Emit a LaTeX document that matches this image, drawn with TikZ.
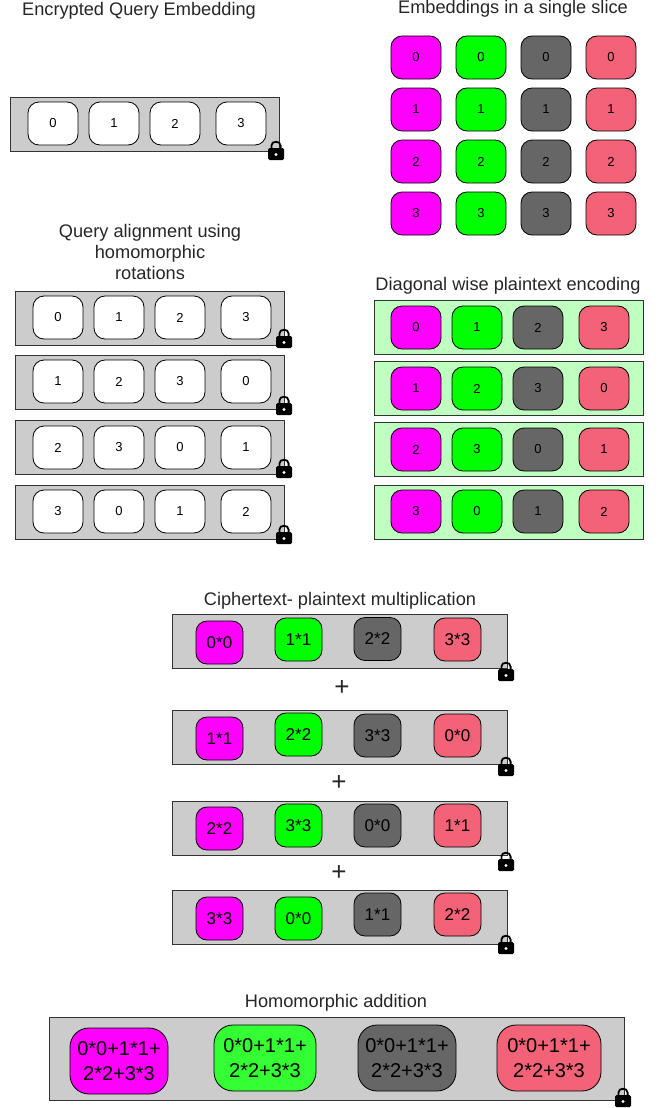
\documentclass[tikz,border=0pt]{standalone}
\usepackage{fontspec}
\setmainfont{Liberation Sans}
\definecolor{cellmag}{HTML}{FF00FF}
\definecolor{cellgreen}{HTML}{00FF00}
\definecolor{cellgray}{HTML}{666666}
\definecolor{cellred}{HTML}{F46277}
\definecolor{barlime}{HTML}{BFFFBF}
\definecolor{sumgreen}{HTML}{33FF33}
\tikzset{
  title/.style={font=\fontsize{18.2}{21}\selectfont,align=center,text=black!85},
  plussign/.style={font=\fontsize{26}{26}\selectfont,text=black!85},
  bar/.style={draw=black!80,fill=black!20,line width=0.8pt,minimum width=269pt,minimum height=54pt,inner sep=0pt},
  mulbar/.style={bar,minimum width=335pt},
  sumbar/.style={bar,minimum width=575pt,minimum height=83pt},
  cell/.style={draw=black,line width=0.8pt,rounded corners=11pt,minimum width=50pt,minimum height=43pt,inner sep=0pt,font=\fontsize{13}{15}\selectfont},
  mulcell/.style={cell,minimum width=47pt,font=\fontsize{17}{18}\selectfont},
  sumcell/.style={cell,rounded corners=19pt,minimum height=66pt,align=center,font=\fontsize{20}{25}\selectfont},
  padlock/.pic={
    \fill[black,rounded corners=1.5pt] (-8,-6) rectangle (8,6);
    \draw[black,line width=1.8pt] (-4.6,-5) -- (-4.6,-8.5) .. controls (-4.6,-13.5) and (4.6,-13.5) .. (4.6,-8.5) -- (4.6,-5);
    \fill[white] (0,0.5) circle (1.6pt);
  }
}
\begin{document}
\begin{tikzpicture}[x=1pt,y=-1pt]
  \useasboundingbox (0,0) rectangle (657,1108);

  % Encrypted query
  \node[title] (encTitle) at (139,10.5) {Encrypted Query Embedding};
  \node[bar] (enc) at (144.5,124) {};
  \node[cell,fill=white] (enc0) at (53,123.5) {0};
  \node[cell,fill=white] (enc1) at (114,123.5) {1};
  \node[cell,fill=white] (enc2) at (175,123.5) {2};
  \node[cell,fill=white] (enc3) at (241,123.5) {3};
  \pic at (276,154) {padlock};

  % Embeddings in a slice
  \node[title] (sliceTitle) at (513,8.5) {Embeddings in a single slice};
  \node[cell,fill=cellmag] (s00) at (416,57.5) {0};
  \node[cell,fill=cellgreen] (s01) at (481,57.5) {0};
  \node[cell,fill=cellgray] (s02) at (546,57.5) {0};
  \node[cell,fill=cellred] (s03) at (611,57.5) {0};
  \node[cell,fill=cellmag] (s10) at (416,109.5) {1};
  \node[cell,fill=cellgreen] (s11) at (481,109.5) {1};
  \node[cell,fill=cellgray] (s12) at (546,109.5) {1};
  \node[cell,fill=cellred] (s13) at (611,109.5) {1};
  \node[cell,fill=cellmag] (s20) at (416,161.5) {2};
  \node[cell,fill=cellgreen] (s21) at (481,161.5) {2};
  \node[cell,fill=cellgray] (s22) at (546,161.5) {2};
  \node[cell,fill=cellred] (s23) at (611,161.5) {2};
  \node[cell,fill=cellmag] (s30) at (416,213.5) {3};
  \node[cell,fill=cellgreen] (s31) at (481,213.5) {3};
  \node[cell,fill=cellgray] (s32) at (546,213.5) {3};
  \node[cell,fill=cellred] (s33) at (611,213.5) {3};

  % Query rotations
  \node[title] (rotTitle) at (150,252) {Query alignment using\\homomorphic\\rotations};
  \node[bar] (rot0) at (149.5,318) {};
  \node[cell,fill=white] (r00) at (58,317.5) {0};
  \node[cell,fill=white] (r01) at (119,317.5) {1};
  \node[cell,fill=white] (r02) at (180,317.5) {2};
  \node[cell,fill=white] (r03) at (246,317.5) {3};
  \pic at (284,342) {padlock};
  \node[bar] (rot1) at (149.5,382) {};
  \node[cell,fill=white] (r10) at (58,381.5) {1};
  \node[cell,fill=white] (r11) at (119,381.5) {2};
  \node[cell,fill=white] (r12) at (180,381.5) {3};
  \node[cell,fill=white] (r13) at (246,381.5) {0};
  \pic at (284,409) {padlock};
  \node[bar] (rot2) at (149.5,447) {};
  \node[cell,fill=white] (r20) at (58,447.5) {2};
  \node[cell,fill=white] (r21) at (119,447.5) {3};
  \node[cell,fill=white] (r22) at (180,447.5) {0};
  \node[cell,fill=white] (r23) at (246,447.5) {1};
  \pic at (284,472) {padlock};
  \node[bar] (rot3) at (149.5,512) {};
  \node[cell,fill=white] (r30) at (58,511.5) {3};
  \node[cell,fill=white] (r31) at (119,511.5) {0};
  \node[cell,fill=white] (r32) at (180,511.5) {1};
  \node[cell,fill=white] (r33) at (246,511.5) {2};
  \pic at (284,538) {padlock};

  % Diagonal encoding
  \node[title] (diagTitle) at (508,286) {Diagonal wise plaintext encoding};
  \node[bar,fill=barlime] (diag0) at (508.5,327) {};
  \node[cell,fill=cellmag] (d00) at (416,327.5) {0};
  \node[cell,fill=cellgreen] (d01) at (477,327.5) {1};
  \node[cell,fill=cellgray] (d02) at (538,327.5) {2};
  \node[cell,fill=cellred] (d03) at (604,327.5) {3};
  \node[bar,fill=barlime] (diag1) at (508.5,388) {};
  \node[cell,fill=cellmag] (d10) at (416,388.5) {1};
  \node[cell,fill=cellgreen] (d11) at (477,388.5) {2};
  \node[cell,fill=cellgray] (d12) at (538,388.5) {3};
  \node[cell,fill=cellred] (d13) at (604,388.5) {0};
  \node[bar,fill=barlime] (diag2) at (508.5,449) {};
  \node[cell,fill=cellmag] (d20) at (416,449.5) {2};
  \node[cell,fill=cellgreen] (d21) at (477,449.5) {3};
  \node[cell,fill=cellgray] (d22) at (538,449.5) {0};
  \node[cell,fill=cellred] (d23) at (604,449.5) {1};
  \node[bar,fill=barlime] (diag3) at (508.5,512) {};
  \node[cell,fill=cellmag] (d30) at (416,511.5) {3};
  \node[cell,fill=cellgreen] (d31) at (477,511.5) {0};
  \node[cell,fill=cellgray] (d32) at (538,511.5) {1};
  \node[cell,fill=cellred] (d33) at (604,511.5) {2};

  % Multiplication
  \node[title] (mulTitle) at (340,600.5) {Ciphertext- plaintext multiplication};
  \node[mulbar] (mul0) at (339.5,641) {};
  \node[mulcell,fill=cellmag] (m00) at (219.5,642.5) {0*0};
  \node[mulcell,fill=cellgreen] (m01) at (298.5,639.5) {1*1};
  \node[mulcell,fill=cellgray] (m02) at (377.5,639) {2*2};
  \node[mulcell,fill=cellred] (m03) at (457.5,639.5) {3*3};
  \pic at (506,675) {padlock};
  \node[plussign] (plus0) at (342,688) {+};
  \node[mulbar] (mul1) at (339.5,737) {};
  \node[mulcell,fill=cellmag] (m10) at (219.5,738.5) {1*1};
  \node[mulcell,fill=cellgreen] (m11) at (298.5,734.5) {2*2};
  \node[mulcell,fill=cellgray] (m12) at (377.5,735.5) {3*3};
  \node[mulcell,fill=cellred] (m13) at (457.5,735.5) {0*0};
  \pic at (506,770) {padlock};
  \node[plussign] (plus1) at (339,783) {+};
  \node[mulbar] (mul2) at (339.5,828) {};
  \node[mulcell,fill=cellmag] (m20) at (219.5,828.5) {2*2};
  \node[mulcell,fill=cellgreen] (m21) at (298.5,825.5) {3*3};
  \node[mulcell,fill=cellgray] (m22) at (377.5,825.5) {0*0};
  \node[mulcell,fill=cellred] (m23) at (457.5,825.5) {1*1};
  \pic at (506,865) {padlock};
  \node[plussign] (plus2) at (339,873) {+};
  \node[mulbar] (mul3) at (339.5,917) {};
  \node[mulcell,fill=cellmag] (m30) at (219.5,918.5) {3*3};
  \node[mulcell,fill=cellgreen] (m31) at (298.5,918.5) {0*0};
  \node[mulcell,fill=cellgray] (m32) at (377.5,914.5) {1*1};
  \node[mulcell,fill=cellred] (m33) at (457.5,914.5) {2*2};
  \pic at (506,948) {padlock};

  % Addition result
  \node[title] (sumTitle) at (336,1002.5) {Homomorphic addition};
  \node[sumbar] (sum) at (336.5,1058.5) {};
  \node[sumcell,fill=cellmag,minimum width=98pt] (sum0) at (119,1061) {0*0+1*1+\\2*2+3*3};
  \node[sumcell,fill=sumgreen,minimum width=102pt] (sum1) at (265,1058) {0*0+1*1+\\2*2+3*3};
  \node[sumcell,fill=cellgray,minimum width=98pt] (sum2) at (407,1058) {0*0+1*1+\\2*2+3*3};
  \node[sumcell,fill=cellred,minimum width=104pt] (sum3) at (549,1058) {0*0+1*1+\\2*2+3*3};
  \pic at (623,1101) {padlock};
\end{tikzpicture}
\end{document}
